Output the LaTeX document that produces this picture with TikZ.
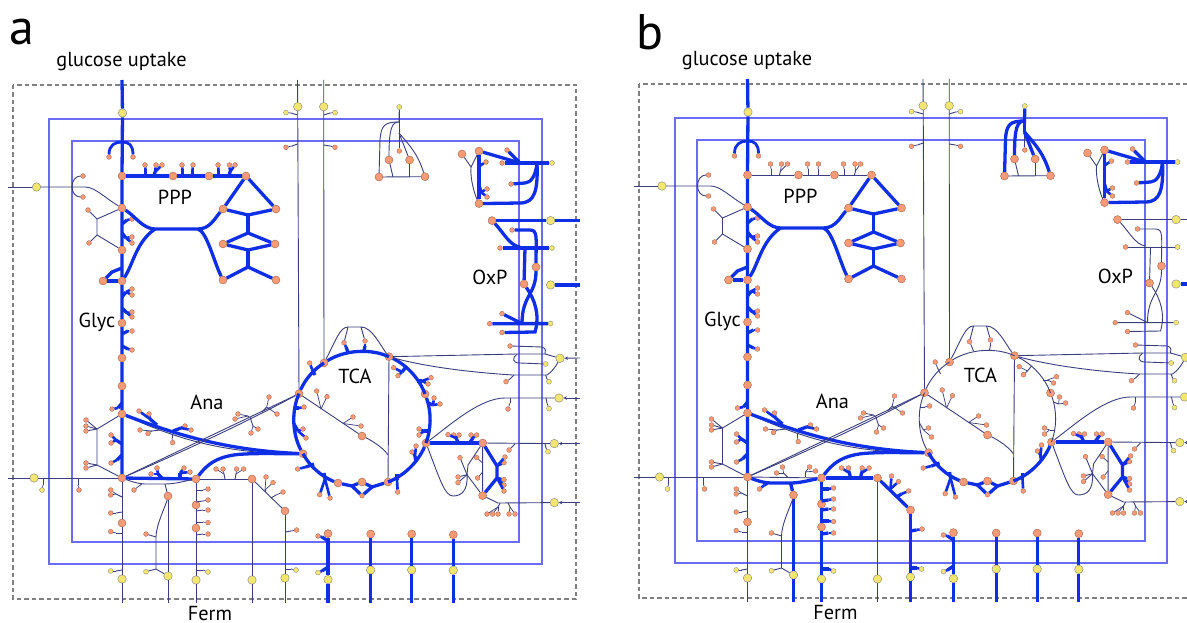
\documentclass[tikz,border=0pt]{standalone}
\usepackage{fontspec}
\setmainfont{PT Sans}
\usetikzlibrary{arrows.meta}
\definecolor{salmon}{HTML}{F79A76}
\definecolor{straw}{HTML}{F2E670}
\definecolor{fluxblue}{HTML}{0F2FE6}
\definecolor{navy}{HTML}{3A3E7C}
\definecolor{framec}{HTML}{6A6CF6}
\tikzset{
  bigm/.style={circle,draw=salmon!65!black,fill=salmon,line width=.4pt,inner sep=0pt,minimum size=8pt},
  smallm/.style={circle,draw=salmon!65!black,fill=salmon,line width=.3pt,inner sep=0pt,minimum size=4.8pt},
  bigx/.style={circle,draw=black!50,fill=straw,line width=.4pt,inner sep=0pt,minimum size=8.5pt},
  smallx/.style={circle,draw=black!50,fill=straw,line width=.3pt,inner sep=0pt,minimum size=5pt},
  flux/.style={draw=fluxblue,line width=3.3pt},
  thinl/.style={draw=navy,line width=.9pt},
  tip/.style={-{Stealth[length=3.5pt,width=3.5pt]}},
  frame/.style={draw=framec,line width=2pt},
  outerb/.style={draw=black!50,line width=2pt,dash pattern=on 4.5pt off 3pt},
  lab/.style={font=\fontsize{20.3}{20.3}\selectfont,inner sep=0pt},
  panel/.style={font=\fontsize{50}{50}\selectfont,inner sep=0pt}
}
% style, name, base, fork, leaves
\newcommand\twig[5]{%
  \coordinate (#2b) at (#3);
  \coordinate (#2f) at (#4);
  \draw[#1] (#2b) -- (#2f);
  \foreach \leaf in {#5} {\draw[#1,line width=.8\pgflinewidth] (#2f) -- (\leaf);}
}
\newcommand\metnet{%
\draw[outerb] (13,85) rectangle (576,599);
\draw[frame] (49.3,118.7) rectangle (541.7,564.3);
\draw[frame] (71.7,141.3) rectangle (519.3,541.7);
% metabolites
\foreach \nm/\px/\py in {gv1/122/176,gv2/122/208,gv3/122/250,gv4/122/281,gv5/122/323,gv6/122/358,gv7/122/386,gv8/122/414,gv9/122/478,gl/103/281,
  pa/173/176,pb/209/176,pc/246/176,pd/223/209,pe/276/209,pf/223/244,pg/275/244,ph/223/280,pi/276/280,
  la/196/479,lb/252/479,lc/285/511,ld/168/496,le/122/523,lf/196/505,lg/196/528,
  ca/328/533.6,cb/370.7/534,cc/411.7/534,cd/453.3/534.7,
  ta/299/393.7,tb/324/363,tc/389/356.7,td/425/394,te/426/443,tf/388/482,tg/362/482,th/338/483,ti/303/453.7,tj/362/436,
  ya/379/177,yb/389/160,yc/409.6/160,yd/425/176.7,
  oa/462/154,ob/479/151,oc/479/203.6,od/492/220.6,oe/536/267,of/524/284,
  ra/482.7/443,rb/482.6/495.6} {
  \node[bigm] (\nm) at (\px,\py) {};
}
\foreach \nm/\px/\py in {aa/109/157,ab/133/157,
  q1/145/165,q2/156/165,q3/162/165,q4/182/165,q5/193/165,q6/218/165,q7/229.5/165,q8/235/165,
  ga1/132/219,ga2/132/237,ga3/132/243,ga4/132/289,ga5/132/295,ga6/132/312,ga7/132/317,ga8/132/331,ga9/132/350,
  ga10/112/409,ga11/111/435,ga12/111/443,ga13/111/463,
  su/83/176,sd/83/197,sa/88/210,sb/89/243,h1/86/420,h2/86/426,h3/86/431,h4/86/463,h5/86/468,w1/79/490,
  an1/139/411,an2/149/414,an3/185/426,an4/191/430,an6/140/430,an7/148/433.5,an8/172.7/442.6,
  x1/269/397,x2/277/414,x3/238/414,x4/235/419,x5/251/433,x6/258/429,
  l1/151/474,l2/157/468,l3/184/468,l4/190/472,l5/134/490,l6/146/534,
  c1/110.7/490,c2/110.7/495,c3/110.7/513,c4/110.7/531.6,
  d1/208/489,d2/208/500,d3/208/510,d4/208/522.6,d5/208/534,
  f1/216/469,f2/223/469,f3/236.6/469,f4/243.6/469,k1/266/477,k2/273/482.6,k3/283/492,m1/296.6/530,
  n1/318/536,v1/286/147.3,v2/335/147.3,
  tu1/309.7/363,tu2/344/342.7,tu3/365/341,tu4/393.7/367.7,tu5/398/375.7,tu6/431/377.7,tu7/428/384,tu8/434/398,tu9/440/404,
  tu10/419/429,tu11/419/435,tu12/416/446,tu13/412/452,tu14/397.7/492,tu15/362/495.7,tu16/319.7/494.7,tu17/330/498,tu18/297.7/469,
  tu19/304/407,tu20/303/429,tu21/306/438,tu22/316.7/391,tu23/327/396.7,tu24/353/417,tu25/361/426,
  yl/399.3/151,o1/486/162,o2/487/189,o3/487/197,o4/502/163,o5/507/150,o6/511/184,o7/500/248,o8/512/230,o9/489.7/323.7,o10/502/313.6,o11/502/332.5,
  r1/510/346,r2/506/381.7,r3/508/409,r4/509/450,
  b1/460/457.7,b2/458/477,b3/458/482.6,b4/476.6/457.6,b5/477.6/478,
  b6/505/457,b7/504/462.6,b8/504/479.6,b9/504/485,b10/504/491,
  b11/448/434.6,b12/453.6/435,b13/459/435,b14/471/435,b15/476.6/435,
  b16/487/514,b17/492.6/514,b18/498/514,b19/509/514,b20/515/514} {
  \node[smallm] (\nm) at (\px,\py) {};
}
\foreach \nm/\px/\py in {eg/122.5/113,ei1/36.5/187,ei2/34/478,e1/122/579,e2/168/576,e3/196/580,e4/252/580,e5/285/578,
  ex1/328/579.6,ex2/370.7/570,ex3/411.7/570,ex4/453.3/570.3,ev1/297.7/106.7,ev2/323.7/106.7,
  eo1/550.6/220.6,eo2/550.6/285,er1/560/358.3,er2/559/398,er3/554.3/443.6,er4/554.3/502.6} {
  \node[bigx] (\nm) at (\px,\py) {};
}
\foreach \nm/\px/\py in {z1/42/490,z2/146/571.7,z3/110.7/571,z4/208/572,z5/296/570,z6/318/572.6,z7/286/112.6,z8/335/112.6,
  z9/399.3/107,z10/552/163,z11/552/248,z12/550.6/323.6,z13/545.7/364,z14/549/381.7,z15/549/408.6,z16/548/451.6} {
  \node[smallx] (\nm) at (\px,\py) {};
}
% free ends
\foreach \nm/\px/\py in {gtop/122/80,li/8/187,lo/8/478,bt1/122/603,bt2/168/603,bt3/196/603,bt4/252/603,bt5/285/603,
  bc1/328/603,bc2/370.7/603,bc3/411.7/603,bc4/453.3/603,tt1/297.5/80,tt2/323.7/80,
  rt1/580/220.6,rt2/580/285,rt3/580/358,rt4/580/398,rt5/580/443.6,rt6/580/502.6,
  px1/155/229,px2/198/229,la1/248/215,la2/248/233,la3/248/250,la4/248/267,
  jh1/97/219,jh2/97/235,jh3/97/429,jh4/97/465,jf/85/187,fk/72/187,gj/122/268,gk/112/272,
  ljc/165/484,lj2/145/484,lj3/156/537,lj4/156/569,ti2/245/454,
  di1/352/486,di2/372/487,ij/388/455,ar1/348/327,ar2/361/327,
  yj1/399/122,yj2/399/133,yb1/393/177,yb2/409.6/177,ok/471/167,
  oj1/520/163,oj2/537/163,oj3/525/183,oj4/520/203,
  ow1/520/247,ow2/530/230,ow3/525/248,ow4/522/323.6,ow5/535/332,
  lo1/545/354,lo2/517/354,lo3/520/363,lo4/542/347,lo5/513/375,lo6/547/375,
  rb1/505/398,rb2/510/398,rb3/515/444,rb4/498/503,jr/467/474.7,jr2/468/465,jr3/453/496,hr/497/466,hr2/497/478} {
  \coordinate (\nm) at (\px,\py);
}
% glycolysis
\draw[flux] (gtop) -- (eg);
\draw[flux] (eg) -- (gv1) -- (gv2) -- (gv3) -- (gv4) -- (gv5) -- (gv6) -- (gv7) -- (gv8) -- (gv9);
\draw[flux,line width=2.8pt] (aa) .. controls (109,145) and (115,142) .. (122,142) .. controls (129,142) and (133,145) .. (ab);
\twig{flux}{g1}{122,224}{127,220}{ga1}
\twig{flux}{g2}{122,233}{126,238}{ga2,ga3}
\twig{flux}{g3}{122,297}{126,292}{ga4,ga5}
\twig{flux}{g4}{122,308}{127,313}{ga6,ga7}
\twig{flux}{g5}{122,334}{128,331}{ga8}
\twig{flux}{g6}{122,346}{128,349}{ga9}
\twig{flux}{g7}{122,403}{118,408}{ga10}
\twig{flux}{g8}{122,444}{116,440}{ga11,ga12}
\twig{flux}{g9}{122,455}{117,460}{ga13}
\draw[flux] (gj) -- (gk) -- (gl);
\draw[flux] (gl) -- (gv4);
% ppp
\draw[fluxa] (gv1) -- (pa) -- (pb) -- (pc);
\twig{fluxa}{u1}{145.5,176}{145.5,170}{q1}
\twig{fluxa}{u2}{154,176}{155,172}{q2,q3}
\twig{fluxa}{u3}{182.5,176}{182.5,170}{q4}
\twig{fluxa}{u4}{192.5,176}{192.5,170}{q5}
\twig{fluxa}{u5}{218.5,176}{218.5,170}{q6}
\twig{fluxa}{u6}{229,176}{230,172}{q7,q8}
\draw[flux] (pc) -- (pd);
\draw[flux] (pc) -- (pe);
\draw[flux] (gv2) .. controls (135,216) and (143,229) .. (px1) -- (px2) .. controls (210,229) and (215,218) .. (pd);
\draw[flux] (gv4) .. controls (133,265) and (136,242) .. (px1);
\draw[flux] (px2) .. controls (207,232) and (214,262) .. (ph);
\draw[flux] (pd) -- (la1) -- (pe);
\draw[flux] (la1) -- (la2);
\draw[flux] (pf) -- (la2) -- (pg);
\draw[flux] (pf) -- (la3) -- (pg);
\draw[flux] (la3) -- (la4);
\draw[flux] (ph) -- (la4) -- (pi);
% left side
\draw[thinl] (li) -- (ei1);
\draw[thinl] (ei1) -- (fk) -- (jf) .. controls (95,187) and (105,198) .. (gv2);
\draw[thinl] (fk) .. controls (72,180) and (76,176) .. (su);
\draw[thinl] (fk) .. controls (72,193) and (76,197) .. (sd);
\draw[thinl] (sa) -- (jh1) -- (gv2);
\draw[thinl] (jh1) -- (jh2) -- (sb);
\draw[thinl] (jh2) -- (gv3);
\draw[thinl] (lo) -- (ei2);
\draw[thinl] (ei2) -- (gv9);
\twig{thinl}{wa}{43,478}{43,485}{z1}
\twig{thinl}{wc}{78,478}{78,485}{w1}
\draw[thinl] (gv8) -- (jh3) -- (jh4) -- (gv9);
\foreach \leaf in {h1,h2,h3} {\draw[thinl] (jh3) -- (\leaf);}
\foreach \leaf in {h4,h5} {\draw[thinl] (jh4) -- (\leaf);}
% anaplerosis
\draw[thinl] (gv8) .. controls (170,436) and (220,454) .. (ti);
\draw[flux] (gv8) .. controls (170,432) and (220,450) .. (ti);
\twig{flux}{an}{157,425}{150,419}{an1,an2}
\twig{flux}{ao}{173,431}{181,428}{an3,an4}
\twig{thinl}{ap}{160,430}{152,431}{an6,an7}
\twig{thinl}{aq}{172,434}{172,438}{an8}
\draw[thinl] (gv9) -- (ta);
\draw[thinl] (gv9) .. controls (200,444) and (250,420) .. (ta);
\twig{thinl}{xa}{262,412}{266.7,407}{x1,x2}
\twig{thinl}{xc}{250,417}{253,426}{x5,x6}
\twig{thinl}{xb}{249,417}{248,416}{x3,x4}
\draw[flux] (la) .. controls (206,466) and (216,455) .. (ti2) .. controls (265,453) and (285,454) .. (ti);
% lower columns
\draw[fluxa] (gv9) -- (la);
\twig{fluxa}{l7}{162,478}{158,474}{l1,l2}
\twig{fluxa}{l8}{180,478}{180,473}{l3,l4}
\draw[fluxb] (gv9) .. controls (130,481) and (138,484) .. (lj2) -- (ljc) .. controls (175,484) and (185,481) .. (la);
\twig{fluxb}{l9}{142,484}{139,486}{l5}
\draw[fluxb] (ljc) -- (ld);
\draw[fluxb] (ld) -- (e2);
\draw[fluxb] (e2) -- (bt2);
\draw[thinl] (ld) .. controls (166,505) and (156,525) .. (lj3) -- (lj4) -- (e2);
\draw[thinl] (l6) -- (lj3);
\draw[thinl] (z2) -- (lj4);
\draw[thinl] (gv9) -- (le) -- (e1) -- (bt1);
\twig{thinl}{c5}{122,497}{116,494}{c1,c2}
\twig{thinl}{c6}{122,512}{116,513}{c3}
\twig{thinl}{c7}{122,533}{116,533}{c4}
\twig{thinl}{c8}{122,570}{116,571}{z3}
\draw[fluxb] (la) -- (lf) -- (lg) -- (e3);
\draw[fluxb] (e3) -- (bt3);
\twig{fluxb}{d6}{196,490}{203,490}{d1}
\twig{fluxb}{d7}{196,502}{203,501}{d2}
\twig{fluxb}{d8}{196,511}{203,510}{d3}
\twig{fluxb}{d9}{196,522}{203,522}{d4}
\twig{fluxb}{d0}{196,535}{203,534}{d5}
\twig{fluxb}{da}{196,570}{203,570}{z4}
\draw[fluxb] (la) -- (lb);
\twig{fluxb}{f5}{225,479}{224,474}{f1,f2}
\twig{fluxb}{f6}{235,479}{236,474}{f3,f4}
\draw[thinl] (lb) -- (e4) -- (bt4);
\draw[fluxb] (lb) -- (lc);
\twig{fluxb}{k4}{265,491.6}{265,490}{k1,k2}
\twig{fluxb}{k5}{271,498}{276,495}{k3}
\draw[fluxb] (lc) -- (e5);
\draw[fluxb] (e5) -- (bt5);
\twig{fluxb}{m2}{285,532}{291,531}{m1}
\twig{fluxb}{m3}{285,569}{291,569}{z5}
\draw[flux] (ca) -- (ex1);
\draw[flux] (ex1) -- (bc1);
\twig{flux}{n2}{328,541}{322,537}{n1}
\twig{flux}{n3}{328,567}{322,571}{z6}
\draw[flux] (cb) -- (ex2);
\draw[flux] (ex2) -- (bc2);
\draw[flux] (cc) -- (ex3);
\draw[flux] (ex3) -- (bc3);
\draw[flux] (cd) -- (ex4);
\draw[flux] (ex4) -- (bc4);
% upper verticals
\draw[thinl] (tt1) -- (ev1) -- (ta);
\draw[thinl] (tt2) -- (ev2) -- (tb);
\twig{thinl}{v3}{297.5,115}{291,113}{z7}
\twig{thinl}{v4}{297.5,144}{292,146}{v1}
\twig{thinl}{v5}{323.7,115}{330,113}{z8}
\twig{thinl}{v6}{323.7,145}{330,146}{v2}
% tca
\draw[fluxa] (ta) to[bend left=17,looseness=.85] (tb);
\draw[fluxa] (tb) to[bend left=28,looseness=.85] (tc);
\draw[fluxa] (tc) to[bend left=22,looseness=.85] (td);
\draw[fluxa] (td) to[bend left=20,looseness=.85] (te);
\draw[fluxa] (ti) to[bend left=26,looseness=.85] (ta);
\draw[flux] (te) to[bend left=23,looseness=.85] (tf);
\draw[flux] (th) to[bend left=20,looseness=.85] (ti);
\draw[flux] (th) -- (di1) -- (tg) -- (di2) -- (tf);
\draw[flux] (di1) -- (tu15) -- (di2);
\twig{fluxa}{t1}{315,375}{312,369}{tu1}
\twig{fluxa}{t2}{348,352}{346,347}{tu2}
\twig{fluxa}{t3}{364,351}{365,346}{tu3}
\twig{fluxa}{t4}{406,367}{402,372}{tu4,tu5}
\twig{fluxa}{t5}{417,381}{422,381}{tu6,tu7}
\twig{fluxa}{t6}{428,403}{433,405}{tu8,tu9}
\twig{fluxa}{t7}{429,431}{424,431}{tu10,tu11}
\twig{flux}{t8}{416,462}{415,456}{tu12,tu13}
\twig{flux}{t9}{397,474}{397,480}{tu14}
\twig{flux}{t0}{324,473}{325,479}{tu16,tu17}
\twig{flux}{ta1}{314,464}{306,467}{tu18}
\twig{fluxa}{ta2}{294,408}{299,408}{tu19}
\twig{fluxa}{ta3}{294,424}{298,431}{tu20,tu21}
\draw[thinl] (ta) -- (tj);
\draw[thinl] (tj) .. controls (375,442) and (385,450) .. (ij);
\draw[thinl] (tc) -- (tf);
\twig{thinl}{ta4}{321,409}{321,409}{tu22,tu23}
\twig{thinl}{ta5}{343,423.5}{343,423.5}{tu24,tu25}
\draw[thinl] (tb) .. controls (336,340) and (340,327) .. (ar1) -- (ar2) .. controls (372,327) and (380,345) .. (tc);
\draw[thinl] (tu2) -- (ar1);
\draw[thinl] (tu3) -- (ar2);
% top group
\draw[thinl] (z9) -- (yl);
\draw[fluxb] (z9) -- (yj1) .. controls (385,122) and (381,125) .. (380,140) -- (ya);
\draw[fluxb] (yj1) .. controls (392,122) and (389,128) .. (yb);
\draw[fluxb] (yj2) -- (yc);
\draw[fluxb] (yj2) .. controls (412,148) and (418,155) .. (yd);
\draw[fluxb] (yj1) -- (yj2);
\draw[thinl] (ya) -- (yd);
\draw[thinl] (yb) -- (yb1);
\draw[thinl] (yc) -- (yb2);
% oxp
\draw[thinl] (oa) -- (ok) -- (ob);
\draw[thinl] (ok) .. controls (470,180) and (475,195) .. (oc);
\draw[flux] (ob) -- (oc);
\twig{flux}{oa1}{479,166}{481,165}{o1}
\twig{flux}{oa2}{479,185}{481,192}{o2,o3}
\draw[flux] (ob) -- (oj1);
\draw[flux] (o5) -- (oj1);
\draw[flux] (o4) -- (z10);
\draw[flux] (o6) -- (oj3) .. controls (531,183) and (536,175) .. (oj2);
\draw[flux] (oc) -- (oj4) .. controls (535,203) and (538,190) .. (oj2);
\draw[fluxa] (od) -- (eo1);
\draw[fluxa] (eo1) -- (rt1);
\draw[flux] (eo2) -- (rt2);
\draw[fluxa] (od) .. controls (503,232) and (510,246) .. (ow1);
\draw[fluxa] (o7) -- (z11);
\draw[fluxa] (o8) -- (ow2) .. controls (538,230) and (536,238) .. (oe);
\draw[fluxa] (ow3) -- (of);
\draw[fluxa] (of) .. controls (535,300) and (540,315) .. (ow5) -- (o11);
\draw[fluxa] (oe) .. controls (536,295) and (522,295) .. (ow4);
\draw[fluxa] (o9) -- (z12);
\draw[fluxa] (o10) -- (ow4);
% right side
\draw[thinl] (tc) -- (lo2) -- (lo1) -- (er1);
\draw[thinl,tip] (rt3) -- (er1);
\draw[thinl] (lo2) .. controls (512,358) and (512,363) .. (lo3) -- (z13);
\draw[thinl] (r1) -- (lo4) .. controls (546,348) and (546,352) .. (lo1);
\draw[thinl] (tc) .. controls (430,368) and (480,373) .. (lo5) -- (lo6) .. controls (552,372) and (556,366) .. (er1);
\twig{thinl}{ra1}{514,375}{510,379}{r2}
\twig{thinl}{ra2}{545.6,375}{547,379}{z14}
\draw[thinl] (te) .. controls (450,425) and (480,398) .. (rb1) -- (er2);
\draw[thinl,tip] (rt4) -- (er2);
\twig{thinl}{ra3}{510,398}{510,403}{r3}
\twig{thinl}{ra4}{546,398}{547,403}{z15}
\draw[flux] (te) -- (ra);
\draw[thinl] (ra) -- (er3);
\draw[thinl,tip] (rt5) -- (er3);
\twig{thinl}{ra5}{515,444}{512,447}{r4}
\twig{thinl}{ra6}{545,444}{546,448}{z16}
\twig{flux}{bb1}{458,442}{456,438}{b11,b12,b13}
\twig{flux}{bb2}{470,442}{473,438}{b14,b15}
\draw[thinl] (ra) -- (rb);
\draw[thinl] (ra) -- (jr2) -- (jr) -- (rb);
\draw[thinl] (te) .. controls (440,480) and (445,496) .. (jr3) .. controls (462,496) and (468,490) .. (jr);
\foreach \leaf in {b1,b2,b3} {\draw[thinl] (jr) -- (\leaf);}
\twig{thinl}{bb3}{482.6,463}{482.6,463}{b4}
\twig{thinl}{bb4}{482.6,472}{482.6,472}{b5}
\draw[flux] (ra) -- (hr) -- (hr2) -- (rb);
\foreach \leaf in {b6,b7} {\draw[flux,line width=2.6pt] (hr) -- (\leaf);}
\foreach \leaf in {b8,b9,b10} {\draw[flux,line width=2.6pt] (hr2) -- (\leaf);}
\draw[thinl] (rb) -- (rb4) -- (er4);
\draw[thinl,tip] (rt6) -- (er4);
\twig{thinl}{bb5}{500,503}{498,507}{b16,b17,b18}
\twig{thinl}{bb6}{508,503}{510,507}{b19,b20}
% names
\node[lab] (gluc) at (121.5,62) {glucose uptake};
\node[lab] (nppp) at (175,197.5) {PPP};
\node[lab] (nglyc) at (97,322.5) {Glyc};
\node[lab] (nana) at (207,402) {Ana};
\node[lab] (ntca) at (355,376) {TCA};
\node[lab] (noxp) at (490,277) {OxP};
\node[lab] (nferm) at (210,613.5) {Ferm};
}
\begin{document}
\begin{tikzpicture}[x=1pt,y=-1pt]
\useasboundingbox (0,0) rectangle (1187,623);
\begin{scope}[name prefix=a-,fluxa/.style=flux,fluxb/.style=thinl]
\metnet
\node[panel] (tag) at (22,32) {a};
\end{scope}
\begin{scope}[name prefix=b-,xshift=625.5pt,yshift=1pt,fluxa/.style=thinl,fluxb/.style=flux]
\metnet
\node[panel] (tag) at (24,33) {b};
\end{scope}
\end{tikzpicture}
\end{document}
